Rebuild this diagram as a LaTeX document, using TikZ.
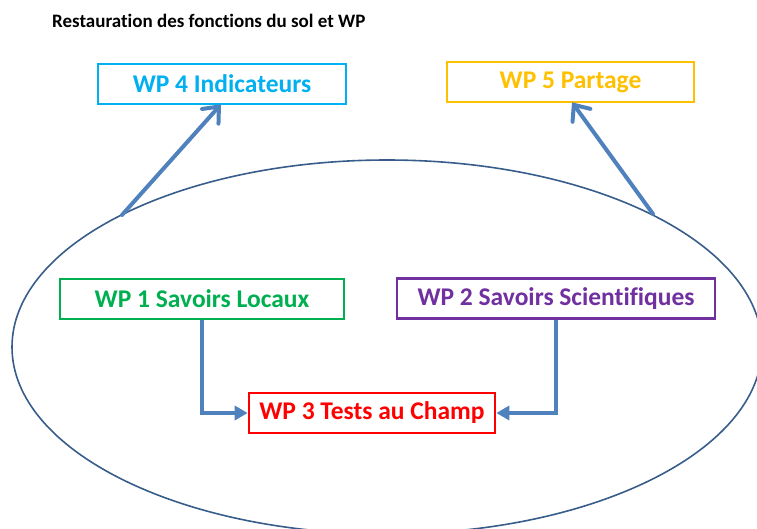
\documentclass[tikz,border=0pt]{standalone}
\usepackage{fontspec}
\setmainfont{Carlito}[Ligatures=NoCommon]
\usetikzlibrary{arrows.meta}
\definecolor{wpcyan}{HTML}{00B0F0}
\definecolor{wpgold}{HTML}{FFC000}
\definecolor{wpgreen}{HTML}{00B050}
\definecolor{wppurple}{HTML}{7030A0}
\definecolor{wpred}{HTML}{FF0000}
\definecolor{arrowblue}{HTML}{4F81BD}
\definecolor{ellblue}{HTML}{385D8A}
\tikzset{
  wpbox/.style={draw=#1, text=#1, line width=2.6pt, fill=white,
    font=\fontsize{25.5}{30}\selectfont\bfseries, inner sep=0pt, anchor=center},
  barbarrow/.style={draw=arrowblue, line width=4pt, line cap=round,
    -{Straight Barb[length=13pt,width=22pt,line cap=round]}},
  elbowarrow/.style={draw=arrowblue, line width=3.6pt,
    -{Triangle[length=13pt,width=14pt]}},
}
\begin{document}
\begin{tikzpicture}[x=1pt,y=-1pt]
\useasboundingbox (0,0) rectangle (757,528);
\begin{scope}
\clip (0,0) rectangle (757,528);
\draw[ellblue, line width=1.6pt] (387,347) ellipse [x radius=375, y radius=187];
\end{scope}
\node[anchor=west, inner sep=0pt, font=\fontsize{19}{22}\selectfont\bfseries] (title) at (52,21) {Restauration des fonctions du sol et WP};
\node[wpbox=wpcyan, minimum width=248pt, minimum height=40pt] (wp4) at (222,84) {WP 4 Indicateurs};
\node[wpbox=wpgold, minimum width=247pt, minimum height=40pt] (wp5) at (570.5,82) {WP 5 Partage};
\node[wpbox=wpgreen, minimum width=284pt, minimum height=40pt] (wp1) at (202,299) {WP 1 Savoirs Locaux};
\node[wpbox=wppurple, minimum width=318pt, minimum height=40pt] (wp2) at (556,298.5) {WP 2 Savoirs Scientifiques};
\node[wpbox=wpred, minimum width=246pt, minimum height=40pt] (wp3) at (372,413) {WP 3 Tests au Champ};
\coordinate (e4) at (122,215);
\coordinate (e5) at (653,214);
\draw[barbarrow] (e4) -- ([xshift=-1pt,yshift=1pt]wp4.south);
\draw[barbarrow] (e5) -- ([xshift=1.5pt,yshift=1pt]wp5.south);
\draw[elbowarrow] (wp1.south) |- (wp3.west);
\draw[elbowarrow] (wp2.south) |- (wp3.east);
\end{tikzpicture}
\end{document}
